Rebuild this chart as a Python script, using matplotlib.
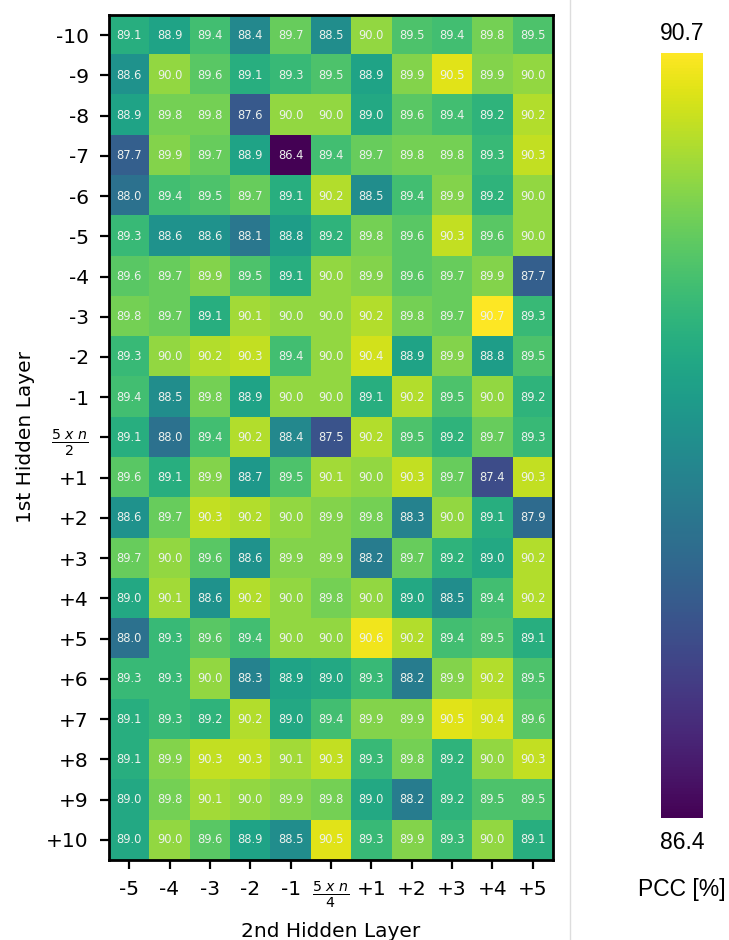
import numpy as np
import matplotlib
matplotlib.use("Agg")
import matplotlib.pyplot as plt
from matplotlib.lines import Line2D

row_labels = ["-10", "-9", "-8", "-7", "-6", "-5", "-4", "-3", "-2", "-1",
              r"$\frac{5\ x\ n}{2}$",
              "+1", "+2", "+3", "+4", "+5", "+6", "+7", "+8", "+9", "+10"]
col_labels = ["-5", "-4", "-3", "-2", "-1", r"$\frac{5\ x\ n}{4}$",
              "+1", "+2", "+3", "+4", "+5"]

pcc = np.array([
    [89.1, 88.9, 89.4, 88.4, 89.7, 88.5, 90.0, 89.5, 89.4, 89.8, 89.5],
    [88.6, 90.0, 89.6, 89.1, 89.3, 89.5, 88.9, 89.9, 90.5, 89.9, 90.0],
    [88.9, 89.8, 89.8, 87.6, 90.0, 90.0, 89.0, 89.6, 89.4, 89.2, 90.2],
    [87.7, 89.9, 89.7, 88.9, 86.4, 89.4, 89.7, 89.8, 89.8, 89.3, 90.3],
    [88.0, 89.4, 89.5, 89.7, 89.1, 90.2, 88.5, 89.4, 89.9, 89.2, 90.0],
    [89.3, 88.6, 88.6, 88.1, 88.8, 89.2, 89.8, 89.6, 90.3, 89.6, 90.0],
    [89.6, 89.7, 89.9, 89.5, 89.1, 90.0, 89.9, 89.6, 89.7, 89.9, 87.7],
    [89.8, 89.7, 89.1, 90.1, 90.0, 90.0, 90.2, 89.8, 89.7, 90.7, 89.3],
    [89.3, 90.0, 90.2, 90.3, 89.4, 90.0, 90.4, 88.9, 89.9, 88.8, 89.5],
    [89.4, 88.5, 89.8, 88.9, 90.0, 90.0, 89.1, 90.2, 89.5, 90.0, 89.2],
    [89.1, 88.0, 89.4, 90.2, 88.4, 87.5, 90.2, 89.5, 89.2, 89.7, 89.3],
    [89.6, 89.1, 89.9, 88.7, 89.5, 90.1, 90.0, 90.3, 89.7, 87.4, 90.3],
    [88.6, 89.7, 90.3, 90.2, 90.0, 89.9, 89.8, 88.3, 90.0, 89.1, 87.9],
    [89.7, 90.0, 89.6, 88.6, 89.9, 89.9, 88.2, 89.7, 89.2, 89.0, 90.2],
    [89.0, 90.1, 88.6, 90.2, 90.0, 89.8, 90.0, 89.0, 88.5, 89.4, 90.2],
    [88.0, 89.3, 89.6, 89.4, 90.0, 90.0, 90.6, 90.2, 89.4, 89.5, 89.1],
    [89.3, 89.3, 90.0, 88.3, 88.9, 89.0, 89.3, 88.2, 89.9, 90.2, 89.5],
    [89.1, 89.3, 89.2, 90.2, 89.0, 89.4, 89.9, 89.9, 90.5, 90.4, 89.6],
    [89.1, 89.9, 90.3, 90.3, 90.1, 90.3, 89.3, 89.8, 89.2, 90.0, 90.3],
    [89.0, 89.8, 90.1, 90.0, 89.9, 89.8, 89.0, 88.2, 89.2, 89.5, 89.5],
    [89.0, 90.0, 89.6, 88.9, 88.5, 90.5, 89.3, 89.9, 89.3, 90.0, 89.1],
])

vmin, vmax = pcc.min(), pcc.max()

fig = plt.figure(figsize=(7.29, 9.40), dpi=100)
ax = fig.add_axes([0.1495, 0.0851, 0.609, 0.899])
im = ax.imshow(pcc, cmap="viridis", vmin=vmin, vmax=vmax, aspect="auto",
               interpolation="nearest")
for i in range(pcc.shape[0]):
    for j in range(pcc.shape[1]):
        ax.text(j, i, f"{pcc[i, j]:.1f}", ha="center", va="center",
                color="#eef2ee", fontsize=8.3)

ax.set_xticks(range(len(col_labels)))
ax.set_xticklabels(col_labels, fontsize=14.5)
ax.set_yticks(range(len(row_labels)))
ax.set_yticklabels(row_labels, fontsize=14.5)
ax.tick_params(length=6.5, width=1.6, pad=8)
for s in ax.spines.values():
    s.set_linewidth(2)
ax.set_xlabel("2nd Hidden Layer", fontsize=14.5, labelpad=8)
ax.set_ylabel("1st Hidden Layer", fontsize=14.5, labelpad=8)

# separator line
fig.add_artist(Line2D([0.782, 0.782], [0, 1], transform=fig.transFigure,
                      color="#dddddd", linewidth=1))

cax = fig.add_axes([0.9067, 0.1298, 0.0576, 0.8138])
cb = fig.colorbar(im, cax=cax)
cb.set_ticks([])
cb.outline.set_visible(False)
cfont = dict(family=["Liberation Sans", "DejaVu Sans"], fontsize=16.5)
cax.text(0.5, 1.01, f"{vmax:.1f}", transform=cax.transAxes, ha="center",
         va="bottom", **cfont)
cax.text(0.5, -0.017, f"{vmin:.1f}", transform=cax.transAxes, ha="center",
         va="top", **cfont)
cax.text(0.5, -0.079, "PCC [%]", transform=cax.transAxes, ha="center",
         va="top", **cfont)

fig.savefig("out.png", dpi=100)
